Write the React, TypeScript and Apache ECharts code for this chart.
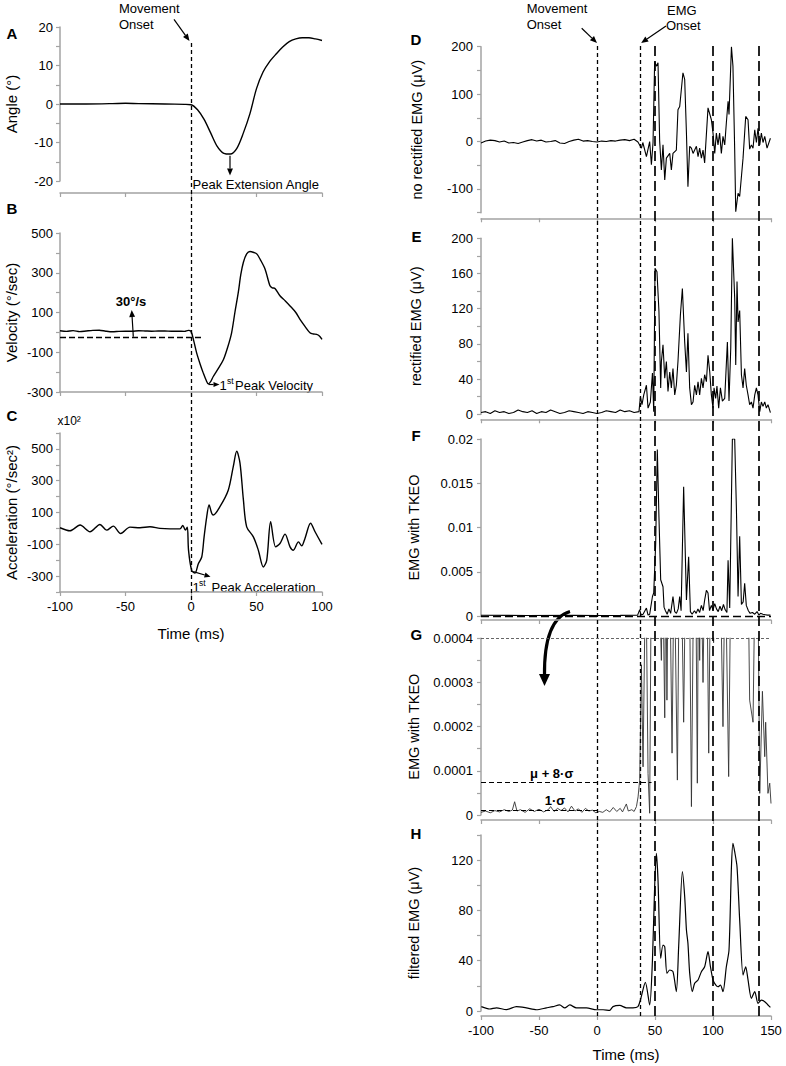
import React, { useEffect, useRef } from 'react';
import * as echarts from 'echarts';

const FONT = '"Liberation Sans", Arial, Helvetica, sans-serif';
const AXIS = '#a3a3a3';

// ---------- Left column (time -100..100 ms) ----------
const angleData: [number, number][] = [
  [-100, 0], [-80, 0], [-60, 0.1], [-50, 0.2], [-40, 0.1], [-20, 0], [-5, -0.1], [0, -0.2],
  [5, -1.5], [10, -4], [15, -7.5], [20, -11], [25, -12.8], [30, -13], [35, -11.5], [40, -7.5],
  [45, -2.5], [50, 4], [55, 8.3], [60, 11], [65, 13], [70, 14.8], [75, 16.2], [80, 16.9],
  [85, 17.2], [90, 17.2], [95, 16.9], [100, 16.5],
];

const velocityData: [number, number][] = [
  [-100, 8], [-95, 5], [-90, 9], [-85, 4], [-80, 7], [-75, 10], [-70, 11], [-65, 6], [-60, 3],
  [-55, 5], [-50, 6], [-45, 6], [-40, 8], [-35, 7], [-30, 6], [-25, 7], [-20, 7], [-15, 6],
  [-10, 6], [-5, 5], [-2, 10], [0, 5], [2, -40], [4.3, -103], [7, -160], [9.4, -205],
  [11.5, -240], [13.2, -259], [15, -248], [17, -222], [21, -180], [24.7, -138], [28, -75],
  [31, -2], [33.5, 100], [36.1, 201], [38, 290], [40, 353], [42.5, 395], [45, 407], [48, 402],
  [50.2, 395], [53, 365], [56.5, 319], [60.3, 234], [62, 224], [64.1, 221], [67.9, 184],
  [72, 158], [75.6, 133], [80, 100], [83.2, 65], [87, 30], [90.8, -2], [93.5, -8], [95.9, -10],
  [98, -18], [100, -35],
];
const velThreshold = -24;
const velThresholdEnd = 9;

const accelData: [number, number][] = [
  [-100, 4], [-92.4, -15], [-84.7, 21], [-77.1, -21], [-69.5, 25], [-64.4, -11], [-59.3, 14],
  [-53.7, -32], [-46.6, 8], [-38.9, 4], [-31.3, 10], [-23.7, 0], [-16, -3], [-8.4, -3],
  [-6.3, 19], [-4.3, -11], [-2.8, 8], [-1.9, -137], [0.5, -264], [3, -281], [5.6, -222],
  [8.2, -180], [10, -53], [12, 73], [13.8, 147], [15.8, 95], [17, 84], [22.1, 137], [28.5, 242],
  [32.3, 390], [34.9, 485], [37.4, 411], [40, 179], [42.5, 10], [47.6, -53], [51.4, -137],
  [55.2, -243], [57.8, -201], [60.8, 42], [64.6, -116], [67.9, -95], [71.8, -36], [75.6, -116],
  [78.1, -137], [82, -85], [84.5, -110], [87, -63], [91.3, 32], [94.7, -21], [100, -101],
];

// ---------- Right column (time -100..150 ms) ----------
const rawEmg: [number, number][] = [
  [-100, -3], [-96, 1], [-92, 3], [-88, 2], [-84, -1], [-80, 1], [-76, -3], [-72, -2], [-68, -4],
  [-64, -1], [-60, 2], [-56, 4], [-52, 1], [-48, 3], [-44, -1], [-40, 0], [-36, 2], [-32, -3],
  [-28, -4], [-24, 0], [-20, 3], [-16, 5], [-12, 1], [-8, 2], [-4, 0], [0, -1], [4, 1], [8, 0],
  [12, 2], [16, 1], [20, 3], [24, 4], [28, 2], [32, 5], [35.3, -1],
  [38.3, -14], [39.5, -2], [42.6, -32], [45.4, 0], [46.9, -49], [48.3, -2], [49.7, 169],
  [51.2, 159], [52.6, 166], [54, 2], [55.5, -60], [56.9, -7], [58.4, -81], [59.8, -35],
  [62.7, -25], [64.1, -60], [65.5, -25], [68.4, -18], [69.8, 67], [71.3, 74], [74.1, 145],
  [75.6, 131], [77.1, 18], [78.4, -95], [79.9, -10], [81.4, -14], [82.8, -25], [85.7, -10],
  [87.1, -32], [88.5, -14], [90, -35], [91.4, -18], [92.8, -45], [95.7, 71], [98.6, 46],
  [100, 18], [101.5, -25], [102.9, 18], [104.3, -7], [105.7, 18], [107.2, -25], [108.6, 11],
  [110.1, -7], [111.5, 39], [113, 85], [113.8, 57], [115.9, 200], [117.2, 159], [118.7, -18],
  [119.6, -148], [121.6, -109], [123, -116], [125.9, -35], [128.2, 53], [130.2, 46],
  [131.6, -16], [133.1, -7], [134.5, -14], [136, 25], [137.4, -2], [138.8, 28], [140.3, -7],
  [141.7, 18], [143.1, -2], [144.6, 11], [146.6, -14], [149.5, 7],
];

const rectEmg: [number, number][] = [
  [-100, 2], [-96, 3], [-92, 1], [-88, 4], [-84, 2], [-80, 3], [-76, 1], [-72, 2], [-68, 5],
  [-64, 3], [-60, 2], [-56, 4], [-52, 1], [-48, 3], [-44, 2], [-40, 5], [-36, 3], [-32, 1],
  [-28, 2], [-24, 4], [-20, 3], [-16, 2], [-12, 1], [-8, 3], [-4, 2], [0, 1], [4, 2], [8, 4],
  [12, 3], [16, 2], [20, 5], [24, 3], [28, 4], [32, 2], [36.2, 3],
  [37.4, 20], [38.8, 11], [40.3, 22], [42.6, 33], [44, 7], [46, 14], [47.8, 47], [48.9, 3],
  [50, 166], [51.7, 162], [53.4, 117], [54.9, 30], [55.5, 60], [56.9, 79], [58.4, 41],
  [59.8, 60], [61.2, 26], [62.7, 48], [64.1, 30], [65.5, 52], [67, 22], [68.4, 33], [69.8, 60],
  [71.9, 113], [73.6, 143], [75.6, 82], [77.1, 48], [78.4, 92], [79.9, 30], [81.4, 11],
  [82.8, 14], [84.2, 33], [85.7, 22], [87.1, 37], [88.5, 22], [90, 41], [91.4, 30], [92.8, 45],
  [94.3, 37], [95.7, 67], [97.2, 48], [98.6, 22], [100, 7], [100.9, 30], [102.3, 18],
  [103.4, 32], [104.9, 7], [106.4, 30], [108.1, 15], [110.1, 18], [112.4, 82], [113.8, 15],
  [115.3, 75], [116.7, 200], [118.7, 132], [119.6, 56], [120.7, 151], [121.6, 105], [123, 118],
  [124.5, 45], [125.9, 30], [127.3, 52], [128.7, 33], [130.2, 22], [131.6, 11], [133.1, 14],
  [134.5, 7], [136, 22], [137.4, 30], [138.8, 22], [140.3, 3], [141.7, 14], [143.1, 9],
  [144.6, 14], [146, 7], [147.4, 11], [149.5, 2],
];

const tkeo: [number, number][] = [
  [-100, 0.00008], [-60, 0.00006], [-20, 0.00008], [0, 0.00005], [20, 0.00007], [35, 0.0001],
  [36.8, 0.0007], [38, 0.0001], [39.7, 0.0002], [42.6, 0.0009], [44, 0.0001], [45.4, 0.0002],
  [47.8, 0.0022], [48.9, 0.0026], [50.6, 0.0082], [52, 0.0188], [53.4, 0.0112], [54.9, 0.0041],
  [56.9, 0.0033], [57.8, 0.001], [59, 0.0006], [60.5, 0.0002], [62, 0.0008], [63.5, 0.0003],
  [65.5, 0.0022], [67, 0.0005], [68.5, 0.0003], [70, 0.0008], [71.3, 0.0022], [72.5, 0.0006],
  [74.7, 0.0146], [77.1, 0.0018], [79, 0.0067], [80.5, 0.0005], [82, 0.0002], [84, 0.0006],
  [85.5, 0.0003], [87, 0.0008], [88.5, 0.0004], [90, 0.0012], [91.5, 0.0006], [92.8, 0.0018],
  [94.3, 0.0029], [95.7, 0.0026], [97, 0.0006], [98.6, 0.0012], [100, 0.0007], [101.5, 0.0014],
  [103, 0.0008], [104.5, 0.0005], [106, 0.0011], [107.5, 0.0006], [109, 0.0013], [110.5, 0.0007],
  [112, 0.0004], [113, 0.0063], [114.4, 0.0009], [116.7, 0.02], [118.7, 0.02], [120.2, 0.012],
  [121.6, 0.0022], [123, 0.009], [124.5, 0.0013], [126, 0.0016], [127.3, 0.0037], [128.7, 0.0012],
  [130.5, 0.0006], [132, 0.0003], [134, 0.0004], [136, 0.0002], [138, 0.0005], [139.5, 0.0001],
  [141, 0.0003], [143, 0.0002], [145, 0.00015], [147, 0.0001], [149.5, 0.0001],
];
const tkeoThreshold = 0.0006;

const tkeoZoom: [number, number][] = [
  [-100, 0.6e-5], [-96, 0.9e-5], [-92, 0.5e-5], [-88, 1.0e-5], [-84, 0.7e-5], [-80, 1.2e-5],
  [-76, 0.8e-5], [-73, 1.1e-5], [-71, 3.0e-5], [-69, 0.9e-5], [-66, 1.2e-5], [-62, 0.6e-5],
  [-58, 1.4e-5], [-54, 0.8e-5], [-50, 1.3e-5], [-46, 0.7e-5], [-42, 1.2e-5], [-40, 1.9e-5],
  [-37, 0.8e-5], [-34, 1.5e-5], [-31, 1.0e-5], [-28, 1.6e-5], [-25, 0.7e-5], [-22, 2.0e-5],
  [-19, 0.9e-5], [-16, 1.4e-5], [-13, 0.6e-5], [-10, 1.5e-5], [-7, 0.9e-5], [-4, 1.1e-5],
  [-1, 0.5e-5], [2, 0.8e-5], [5, 0.6e-5], [8, 1.2e-5], [11, 0.7e-5], [14, 1.7e-5], [17, 0.8e-5],
  [20, 1.5e-5], [22, 0.7e-5], [25.3, 2.5e-5], [27, 0.9e-5], [30, 1.2e-5], [32, 0.8e-5],
  [34, 1.9e-5], [35.4, 4.1e-5], [36.8, 7.9e-5], [37.5, 20e-5], [38.3, 34e-5], [39.7, 10.9e-5],
  [42, 60e-5], [44, 9.4e-5], [45.4, 0.4e-5], [46.9, 60e-5], [50, 60e-5], [53, 60e-5],
  [55.5, 35e-5], [56.5, 60e-5], [58.4, 22e-5], [59.3, 60e-5], [60.3, 26e-5], [61.5, 60e-5],
  [62.5, 60e-5], [64.7, 14e-5], [66.5, 60e-5], [69.3, 7.9e-5], [71, 60e-5], [72.5, 60e-5],
  [74.7, 21e-5], [76.5, 60e-5], [79.5, 60e-5], [81.4, 1.9e-5], [83.5, 60e-5], [85, 60e-5],
  [86.5, 7.2e-5], [87.5, 60e-5], [88.5, 35e-5], [89.5, 60e-5], [91.4, 30e-5], [93, 60e-5],
  [94.5, 60e-5], [96.3, 14e-5], [98, 60e-5], [99.5, 60e-5], [100.5, 39e-5], [101.5, 60e-5],
  [106, 60e-5], [108.6, 20e-5], [110.5, 60e-5], [113.5, 8.7e-5], [115.5, 60e-5], [130, 60e-5],
  [131.6, 26e-5], [134.5, 21e-5], [136.5, 60e-5], [138.5, 60e-5], [140.3, 4.9e-5],
  [142.6, 28e-5], [144.6, 13.2e-5], [145.4, 21e-5], [147.4, 4.9e-5], [148.9, 7.2e-5],
  [150, 2.6e-5],
];
const tkeoZoomCeiling = 0.0004;
const muPlus8Sigma = 0.000075;
const muPlus8SigmaEnd = 47;
const oneSigma = 0.00001;
const oneSigmaEnd = 0;

const filtEmg: [number, number][] = [
  [-99.7, 3.5], [-92.5, 1.6], [-86.7, 2.5], [-78.1, 1.1], [-69.5, 3.5], [-60.9, 2.5], [-52.2, 1],
  [-43.6, 2.5], [-37.9, 3.5], [-32.2, 4.8], [-27.8, 2.5], [-23.5, 4.8], [-17.8, 2.5], [-9.1, 2.5],
  [-0.5, 1], [5.2, 1], [10.9, 0.5], [13.8, 3.5], [19.6, 4.4], [25.3, 2.5], [31, 2.5], [35.3, 3.5],
  [37.4, 8.7], [41.7, 22.8], [45.4, 4.8], [47.8, 40.6], [49.7, 98.9], [51.2, 125.4],
  [52.6, 104.2], [54.9, 41.9], [56.9, 52.5], [58.4, 51.1], [60.3, 30], [62.7, 32.6], [65.5, 31.3],
  [68.4, 15.4], [70.4, 51.1], [73.6, 110.8], [75.6, 90.9], [77.1, 64.4], [78.4, 53.8], [79.9, 30],
  [82.2, 15.4], [84.2, 22], [87.1, 24.7], [90, 31.3], [92.8, 35.2], [95.7, 47.2], [97.8, 35.2],
  [100, 24.7], [102.3, 20.7], [104.3, 19.3], [106.4, 20.7], [108.6, 15.4], [111.5, 35.2],
  [113.8, 48.5], [115.9, 114.8], [117.2, 133.4], [118.7, 126.7], [120.7, 114.8], [123, 72.4],
  [125.9, 28.6], [128.2, 35.2], [130.2, 24.7], [133.1, 10.1], [136, 15.4], [138.8, 6.1],
  [141.7, 8.7], [144.6, 7.4], [147.4, 4.8], [149.5, 2.9],
];

// event markers (ms)
const movementOnset = 0;
const emgOnset = 37.4;
const burstMarkers = [49.7, 100, 139.4];

// ---------- helpers ----------
const grids = [
  { left: 60, top: 27, width: 262, height: 154 },      // A
  { left: 60, top: 233, width: 262, height: 159 },     // B
  { left: 60, top: 433, width: 262, height: 159 },     // C
  { left: 481, top: 46.7, width: 290, height: 166 },   // D
  { left: 481, top: 238.3, width: 290, height: 176 },  // E
  { left: 481, top: 439, width: 290, height: 177 },    // F
  { left: 481, top: 638.3, width: 290, height: 176.7 },// G
  { left: 481, top: 835, width: 290, height: 176 },    // H
  { left: 60, top: 42, width: 262, height: 558 },      // overlay left
  { left: 481, top: 43, width: 290, height: 973 },     // overlay right
];

function xAx(gridIndex: number, min: number, max: number, offset: number, labels: boolean, name = '', nameGap = 36) {
  return {
    type: 'value', gridIndex, min, max, interval: 50, offset,
    axisLine: { show: true, onZero: false, lineStyle: { color: AXIS, width: 1.5 } },
    axisTick: { show: true, length: 4, lineStyle: { color: AXIS, width: 1.2 } },
    axisLabel: { show: labels, color: '#000', fontSize: 13, fontFamily: FONT, margin: 8 },
    splitLine: { show: false },
    name, nameLocation: 'middle', nameGap,
    nameTextStyle: { color: '#000', fontSize: 15, fontFamily: FONT },
  };
}

function yAx(gridIndex: number, min: number, max: number, interval: number, fmt: (v: number) => string,
  name: string, nameGap: number, nameSize = 15, labelMargin = 7) {
  return {
    type: 'value', gridIndex, min, max, interval,
    axisLine: { show: true, onZero: false, lineStyle: { color: AXIS, width: 1.5 } },
    axisTick: { show: true, length: 4, lineStyle: { color: AXIS, width: 1.2 } },
    axisLabel: { formatter: fmt, color: '#000', fontSize: 13, fontFamily: FONT, margin: labelMargin },
    splitLine: { show: false },
    name, nameLocation: 'middle', nameRotate: 90, nameGap,
    nameTextStyle: { color: '#000', fontSize: nameSize, fontFamily: FONT },
  };
}

function hiddenAx(gridIndex: number, min: number, max: number) {
  return { type: 'value', gridIndex, min, max, show: false, splitLine: { show: false } };
}

function line(idx: number, data: [number, number][], width = 1.3, smooth: number | boolean = false, color = '#000', extra: any = {}) {
  return {
    type: 'line', xAxisIndex: idx, yAxisIndex: idx, data, showSymbol: false, symbol: 'none',
    smooth, clip: true, silent: true,
    lineStyle: { color, width }, z: 3, ...extra,
  };
}

const mlBase = { silent: true, symbol: ['none', 'none'], label: { show: false }, animation: false };

function txt(x: number, y: number, text: string, size = 13, extra: any = {}) {
  return {
    type: 'text', x, y, silent: true,
    style: { text, fontSize: size, fontFamily: FONT, fill: '#000', align: 'left', verticalAlign: 'middle', ...extra },
  };
}

function arrow(x1: number, y1: number, x2: number, y2: number, w = 1.2, head = 7) {
  const a = Math.atan2(y2 - y1, x2 - x1);
  const hx = x2 - head * Math.cos(a);
  const hy = y2 - head * Math.sin(a);
  const px = -Math.sin(a) * head * 0.42;
  const py = Math.cos(a) * head * 0.42;
  return [
    { type: 'line', silent: true, shape: { x1, y1, x2: hx, y2: hy }, style: { stroke: '#000', lineWidth: w } },
    { type: 'polygon', silent: true, shape: { points: [[x2, y2], [hx + px, hy + py], [hx - px, hy - py]] }, style: { fill: '#000' } },
  ];
}

const everyOther = (step: number) => (v: number) => (Math.round(v / step) % 2 === 0 ? String(v) : '');

function buildOption() {
  const xAxes = [
    xAx(0, -100, 100, 12, false),
    xAx(1, -100, 100, 0, false),
    xAx(2, -100, 100, 0, true, 'Time (ms)', 34),
    xAx(3, -100, 150, 5.6, false),
    xAx(4, -100, 150, 5, false),
    xAx(5, -100, 150, 4, false),
    xAx(6, -100, 150, 5, false),
    xAx(7, -100, 150, 5, true, 'Time (ms)', 31),
    hiddenAx(8, -100, 100),
    hiddenAx(9, -100, 150),
  ];
  const yAxes = [
    yAx(0, -20, 20, 5, (v) => (v % 10 === 0 ? String(v) : ''), 'Angle (°)', 41),
    yAx(1, -300, 500, 100, (v) => (Math.abs(Math.round(v / 100)) % 2 === 1 ? String(v) : ''), 'Velocity (°/sec)', 41),
    yAx(2, -400, 600, 100, (v) => (Math.abs(Math.round(v / 100)) % 2 === 1 ? String(v) : ''), 'Acceleration (°/sec²)', 41),
    yAx(3, -150, 200, 50, (v) => (Math.round(v) % 100 === 0 ? String(v) : ''), 'no rectified EMG (μV)', 57, 14.5, 8),
    yAx(4, 0, 200, 20, everyOther(20), 'rectified EMG (μV)', 58, 14.5, 8),
    yAx(5, 0, 0.02, 0.005, (v) => (v === 0 ? '0' : String(parseFloat(v.toFixed(4)))), 'EMG with TKEO', 60, 14.5, 8),
    yAx(6, 0, 0.0004, 0.00005, (v) => {
      const r = Math.round(v / 0.00005);
      if (r % 2 !== 0) return '';
      return r === 0 ? '0' : (r * 0.00005).toFixed(4);
    }, 'EMG with TKEO', 60, 14.5, 8),
    yAx(7, 0, 140, 20, (v) => (Math.round(v) % 40 === 0 ? String(v) : ''), 'filtered EMG (μV)', 60, 14.5, 8),
    hiddenAx(8, 0, 1),
    hiddenAx(9, 0, 1),
  ];

  const shortDash = { color: '#000', width: 1.3, type: [4, 3] };
  const longDash = { color: '#000', width: 1.7, type: [10, 5] };

  const series: any[] = [
    line(0, angleData, 1.4, 0.3),
    line(1, velocityData, 1.4, 0.3, '#000', {
      markLine: {
        ...mlBase, lineStyle: { color: '#000', width: 1.3, type: [6, 3] },
        data: [[{ coord: [-100, velThreshold] }, { coord: [velThresholdEnd, velThreshold] }]],
      },
    }),
    line(2, accelData, 1.4, 0.3),
    line(3, rawEmg, 1.1),
    line(4, rectEmg, 1.1),
    line(5, tkeo, 1.1, false, '#000', {
      markLine: {
        ...mlBase, lineStyle: { color: '#000', width: 1.3, type: [8, 4] },
        data: [{ yAxis: tkeoThreshold }],
      },
    }),
    line(6, tkeoZoom, 0.9, false, '#333', {
      markLine: {
        ...mlBase, lineStyle: { color: '#000', width: 1.2, type: [5, 3] },
        data: [
          [{ coord: [-100, muPlus8Sigma] }, { coord: [muPlus8SigmaEnd, muPlus8Sigma] }],
          [{ coord: [-100, oneSigma] }, { coord: [oneSigmaEnd, oneSigma] }],
        ],
      },
    }),
    {
      type: 'line', xAxisIndex: 6, yAxisIndex: 6, data: [], silent: true, showSymbol: false,
      clip: false, z: 4,
      markLine: {
        ...mlBase, lineStyle: { color: '#555', width: 0.9, type: [3, 2] },
        data: [[{ coord: [-100, tkeoZoomCeiling] }, { coord: [150, tkeoZoomCeiling] }]],
      },
    },
    line(7, filtEmg, 1.2, 0.25),
    {
      type: 'line', xAxisIndex: 8, yAxisIndex: 8, data: [], silent: true, showSymbol: false, z: 5,
      markLine: { ...mlBase, lineStyle: shortDash, data: [{ xAxis: movementOnset }] },
    },
    {
      type: 'line', xAxisIndex: 9, yAxisIndex: 9, data: [], silent: true, showSymbol: false, z: 5,
      markLine: {
        ...mlBase, lineStyle: shortDash,
        data: [
          { xAxis: movementOnset },
          { xAxis: emgOnset },
          ...burstMarkers.map((m) => ({ xAxis: m, lineStyle: longDash })),
        ],
      },
    },
  ];

  const bold = { fontWeight: 'bold' };
  const elements: any[] = [
    // panel letters
    txt(6.5, 33.3, 'A', 15, bold),
    txt(6.5, 208.3, 'B', 15, bold),
    txt(6.5, 415, 'C', 15, bold),
    txt(410.5, 39, 'D', 15, bold),
    txt(411.5, 236, 'E', 15, bold),
    txt(411.5, 435, 'F', 15, bold),
    txt(410.5, 634, 'G', 15, bold),
    txt(410.5, 833.3, 'H', 15, bold),
    // left annotations
    txt(119, 8.5, 'Movement'),
    txt(119, 24.5, 'Onset'),
    ...arrow(174, 19.3, 189.5, 41),
    txt(192.5, 184.5, 'Peak Extension Angle'),
    ...arrow(230, 155.7, 230, 175.5),
    txt(131, 301, '30°/s', 13, { ...bold, align: 'center' }),
    ...arrow(133.3, 336.7, 131.7, 310),
    ...arrow(208.5, 384.5, 219.5, 384.5, 1.2, 6),
    txt(219.5, 385, '1', 13),
    txt(227, 380.5, 'st', 8.5),
    txt(235, 385, 'Peak Velocity', 13),
    txt(57.5, 421, 'x10²', 12),
    ...arrow(193.3, 571.7, 210.5, 576.7, 1.2, 6),
    txt(192.5, 587, '1', 13),
    txt(199, 582.5, 'st', 8.5),
    txt(211.5, 587, 'Peak Acceleration', 13),
    // right annotations
    txt(526.7, 8.5, 'Movement'),
    txt(526.7, 24.5, 'Onset'),
    ...arrow(581.7, 28.3, 597, 43),
    txt(667, 10, 'EMG'),
    txt(666, 25, 'Onset'),
    ...arrow(666, 26, 641.2, 43),
    txt(551.7, 773.3, 'μ + 8·σ', 13, { ...bold, align: 'center' }),
    txt(555, 800, '1·σ', 13, { ...bold, align: 'center' }),
    {
      type: 'bezierCurve', silent: true,
      shape: { x1: 570, y1: 611.5, cpx1: 551, cpy1: 617, cpx2: 544, cpy2: 640, x2: 544.5, y2: 676 },
      style: { stroke: '#000', lineWidth: 3.2, fill: null },
    },
    {
      type: 'polygon', silent: true,
      shape: { points: [[544.5, 686], [539, 674], [550, 674]] },
      style: { fill: '#000' },
    },
  ];

  return {
    animation: false,
    backgroundColor: '#fff',
    grid: grids.map((g) => ({ ...g, containLabel: false })),
    xAxis: xAxes,
    yAxis: yAxes,
    series,
    graphic: { elements },
  };
}

export default function App() {
  const ref = useRef<HTMLDivElement>(null);
  useEffect(() => {
    if (!ref.current) return;
    const chart = echarts.init(ref.current, null, { renderer: 'svg' });
    chart.setOption(buildOption() as any);
    return () => chart.dispose();
  }, []);
  return (
    <div
      ref={ref}
      style={{ position: 'absolute', left: 0, top: 0, width: 786, height: 1066, background: '#fff' }}
    />
  );
}
